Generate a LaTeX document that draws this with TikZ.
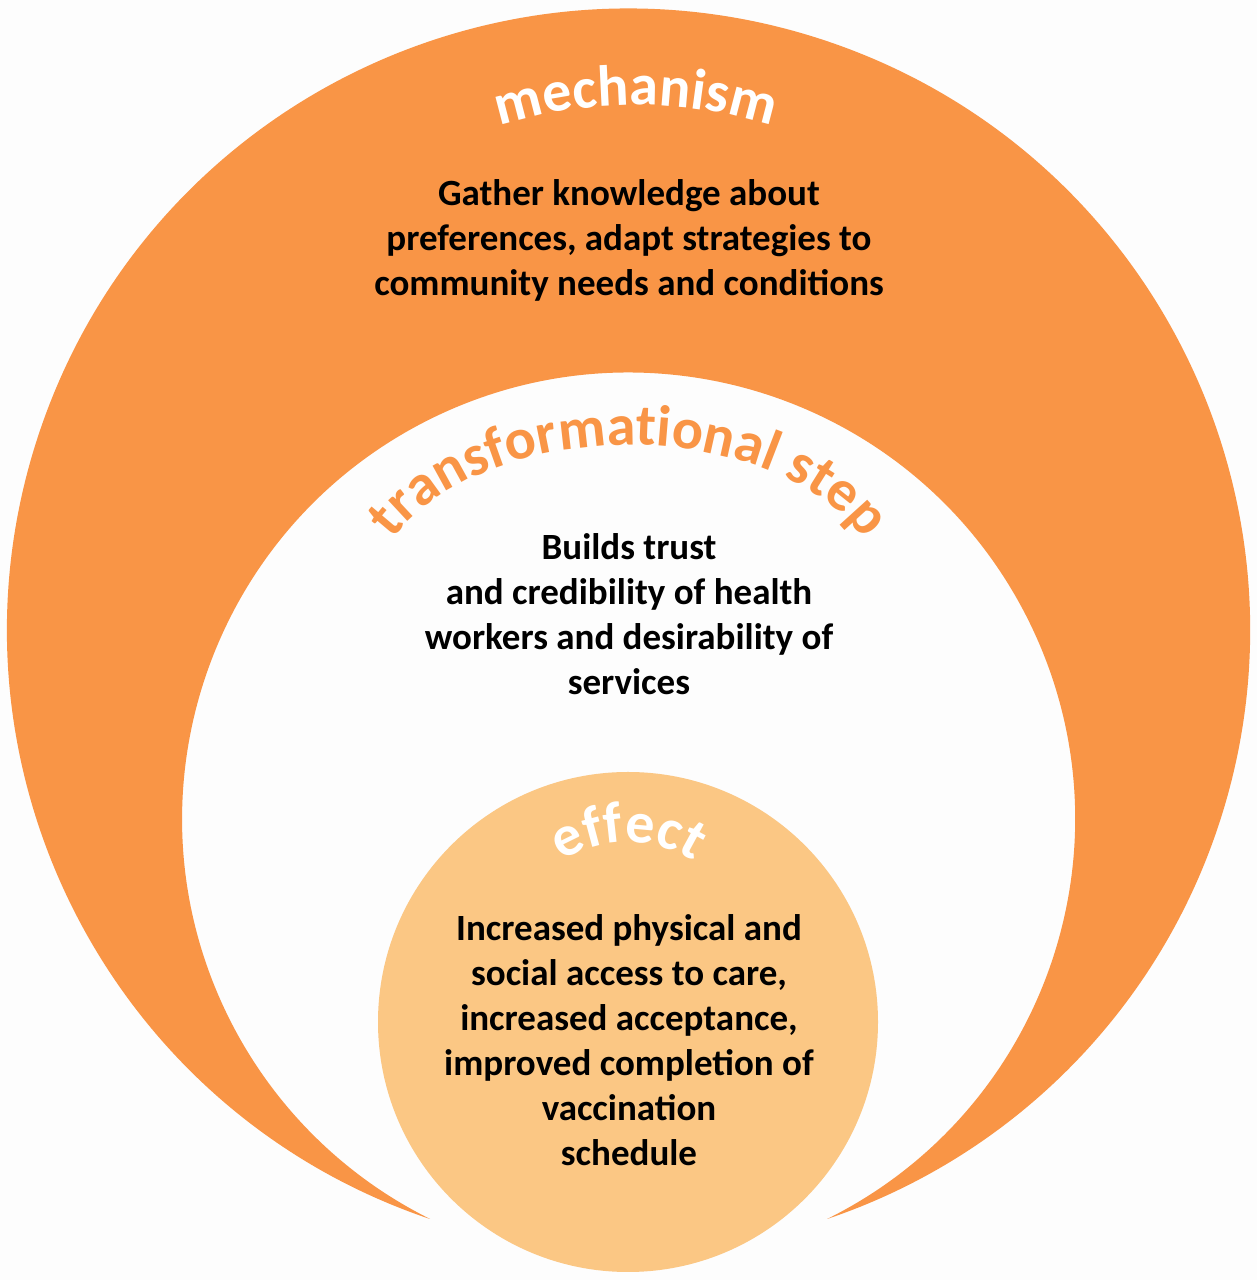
\documentclass[tikz,border=0pt]{standalone}
\usepackage{fontspec}
\setmainfont{Carlito}
\usetikzlibrary{decorations.text}
\definecolor{orangeMain}{HTML}{F99546}
\definecolor{orangeLight}{HTML}{FBC784}
\definecolor{bgWhite}{HTML}{FDFDFD}
\newcommand{\titlefnt}{\fontsize{58}{58}\selectfont\bfseries}
\begin{document}
\begin{tikzpicture}[x=1pt,y=1pt,
  bodytext/.style={align=center, font=\bfseries\fontsize{37}{45}\selectfont, text=black, inner sep=0pt},
  titlepath/.style={decorate, decoration={text along path, text align=center, text color=#1}}]
\fill[bgWhite] (0,0) rectangle (1257,1280);
\useasboundingbox (0,0) rectangle (1257,1280);
% outer crescent
\fill[orangeMain] (430,61) arc[start angle=251.37, end angle=-71.37, radius=621.5pt]
  arc[start angle=-63.61, end angle=243.61, radius=446.5pt] -- cycle;
% effect circle
\node[circle, fill=orangeLight, minimum size=500pt, inner sep=0pt] (effect) at (628,258) {};
% curved titles
\path[titlepath=white, decoration={text={|\titlefnt|mechanism}}]
  ([shift={(120:450pt)}]636,725) arc[start angle=120, end angle=60, radius=450pt];
\path[titlepath=orangeMain, decoration={text={|\titlefnt|transformational step}}]
  ([shift={(170:260pt and 163pt)}]629,672) arc[start angle=170, end angle=10, x radius=260pt, y radius=163pt];
\path[titlepath=white, decoration={text={|\titlefnt|effect}}]
  ([shift={(150:120pt)}]628,318) arc[start angle=150, end angle=30, radius=120pt];
% body texts
\node[bodytext] (mechtext) at (629,1040) {Gather knowledge about\\preferences, adapt strategies to\\community needs and conditions};
\node[bodytext] (steptext) at (629,666) {Builds trust\\and credibility of health\\workers and desirability of\\services};
\node[bodytext] (effecttext) at (629,240) {Increased physical and\\social access to care,\\increased acceptance,\\improved completion of\\vaccination\\schedule};
\end{tikzpicture}
\end{document}
